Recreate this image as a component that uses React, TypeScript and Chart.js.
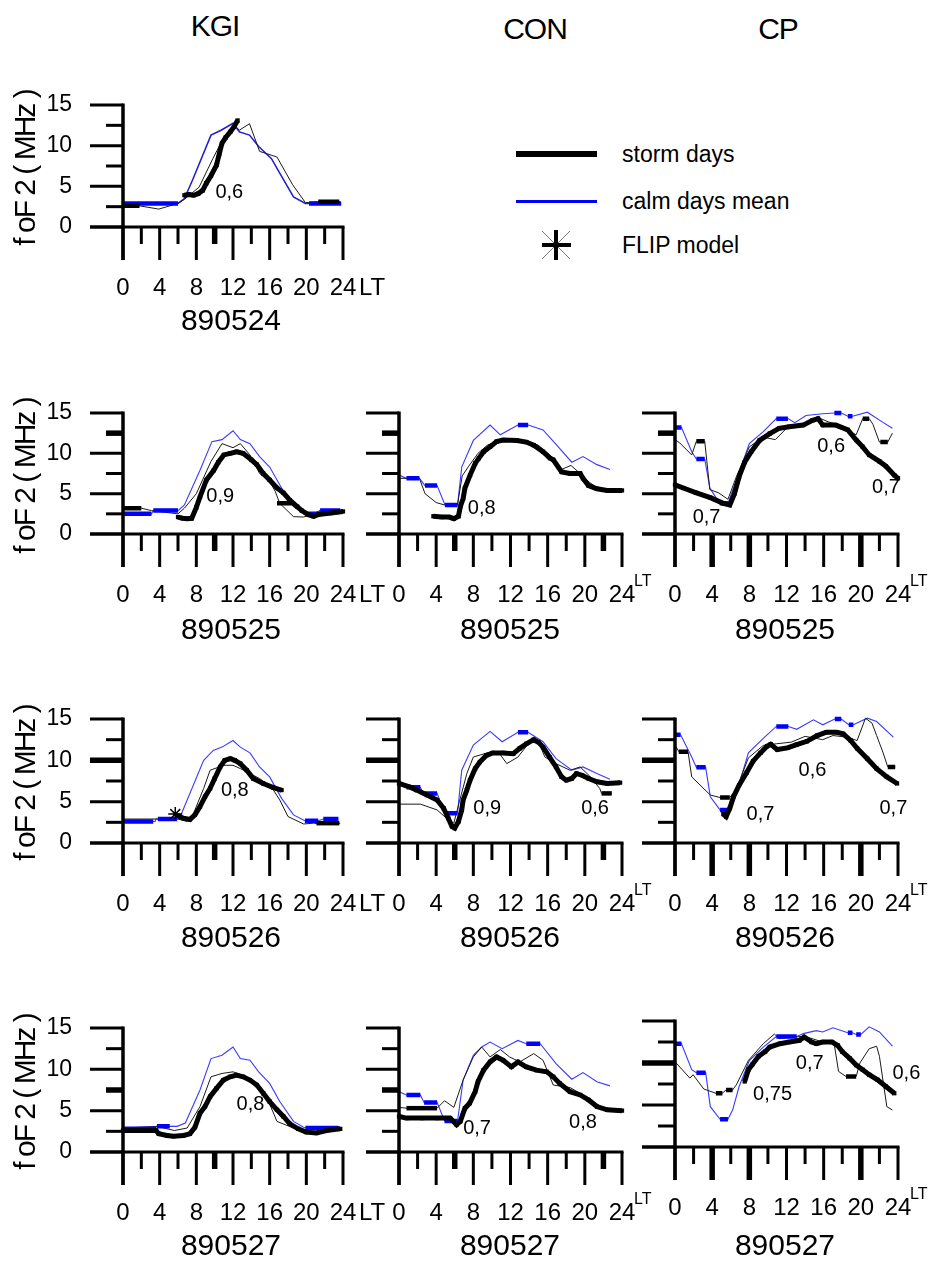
import React, { useEffect, useRef } from "react";
import { Chart, registerables } from "chart.js";

Chart.register(...registerables);

const FONT = '"Liberation Sans", Arial, Helvetica, sans-serif';

// ---------- axes / labels ----------
const X_TICKS = [0, 2, 4, 6, 8, 10, 12, 14, 16, 18, 20, 22, 24];
const X_MAJOR = [0, 4, 8, 12, 16, 20, 24];
const X_LABELS = ["0", "4", "8", "12", "16", "20", "24"];
const Y_TICKS = [0, 2.5, 5, 7.5, 10, 12.5, 15];
const Y_MAJOR = [0, 5, 10, 15];
const Y_LABELS = ["0", "5", "10", "15"];
const STATIONS = ["KGI", "CON", "CP"];
const DAYS = ["890524", "890525", "890526", "890527"];
const Y_TITLE = "f oF 2 ( MHz )";
const LEGEND = ["storm days", "calm days mean", "FLIP model"];

type P = [number, number];
type M = [number, number, number];
type N = [number, number, string];

// ---------- KGI 890524 ----------
const KGI_0524_STORM: P[] = [[6.7,3.9],[7.2,4.0],[7.7,3.9],[8.2,4.1],[8.7,4.5],[9.1,5.4],[9.6,6.3],[10.2,7.6],[10.5,9.0],[10.8,10.3],[11.2,11.0],[11.7,11.7],[12.1,12.3],[12.5,13.1]];
const KGI_0524_CALM: P[] = [[0,2.9],[6,2.9],[6.7,3.5],[7.6,5.8],[9.6,11.3],[10.7,11.9],[12.0,12.75],[12.7,11.7],[13.8,11.3],[14.8,9.9],[16.2,8.4],[16.8,7.2],[18.6,3.7],[19.9,2.9],[23.8,2.9]];
const KGI_0524_CALM_MARKS: M[] = [[0,6,2.9],[20.3,23.8,2.9]];
const KGI_0524_MODEL: P[] = [[0,2.6],[1.8,2.6],[3.9,2.2],[6.0,2.9],[6.7,3.4],[8.3,4.9],[9.8,8.4],[10.8,10.6],[12.1,12.6],[12.7,11.9],[13.8,12.7],[14.9,9.3],[16.8,8.6],[18.5,5.2],[19.9,3.0],[21.3,3.1],[23.6,3.1]];
const KGI_0524_MODEL_MARKS: M[] = [[0,1.8,2.6],[21.3,23.6,3.1]];
const KGI_0524_NOTES: N[] = [[11.6,4.2,"0,6"]];

// ---------- KGI 890525 ----------
const KGI_0525_STORM: P[] = [[6.0,2.1],[6.5,1.95],[7.0,1.9],[7.5,1.95],[8.0,3.3],[8.4,4.6],[9.1,6.7],[9.9,7.9],[10.4,8.9],[11.0,9.8],[11.7,10.0],[12.4,10.2],[13.1,10.0],[14.0,9.2],[14.6,8.6],[15.3,7.5],[16.0,6.7],[16.8,5.7],[17.5,5.1],[18.2,4.2],[19.0,3.4],[19.5,2.9],[20.2,2.4],[20.8,2.2],[21.3,2.4],[22.0,2.5],[22.7,2.6],[23.3,2.7],[24.0,2.8]];
const KGI_0525_CALM: P[] = [[0,2.5],[3.1,2.5],[3.3,2.9],[6.0,2.9],[6.7,3.6],[8.4,7.9],[9.7,11.45],[10.8,11.7],[12.0,12.8],[12.8,11.7],[13.85,11.2],[14.9,9.6],[16.0,8.3],[17.3,5.7],[18.6,3.4],[19.7,2.6],[20.0,2.5],[21.3,2.5],[21.5,2.9],[23.7,2.9]];
const KGI_0525_CALM_MARKS: M[] = [[0,3.1,2.5],[3.3,6.0,2.9],[20.0,21.3,2.5],[21.5,23.7,2.9]];
const KGI_0525_MODEL: P[] = [[0,3.2],[2.0,3.2],[3.1,2.9],[6.0,2.5],[6.7,3.2],[8.0,5.0],[9.6,9.0],[10.8,11.2],[12.0,10.7],[12.8,11.2],[13.85,9.8],[14.9,7.5],[16.0,6.5],[16.6,5.3],[17.1,3.8],[18.6,2.15],[19.7,2.1],[20.3,2.3],[21.5,2.9],[23.7,2.9]];
const KGI_0525_MODEL_MARKS: M[] = [[0,2.0,3.2],[16.8,18.6,3.8]];
const KGI_0525_NOTES: N[] = [[10.6,4.6,"0,9"]];

// ---------- CON 890525 ----------
const CON_0525_STORM: P[] = [[3.7,2.2],[4.6,2.1],[5.4,2.1],[5.9,1.9],[6.4,2.2],[6.6,3.4],[6.9,4.4],[7.1,5.7],[7.65,7.3],[8.2,8.75],[8.6,9.4],[9.1,10.2],[9.8,10.8],[10.5,11.45],[11.2,11.65],[12.7,11.6],[13.7,11.4],[14.5,11.0],[15.5,10.2],[16.25,9.4],[16.6,9.2],[17.5,7.7],[18.4,7.5],[19.5,7.5],[19.8,6.9],[20.4,6.0],[21.3,5.6],[22.4,5.4],[24,5.4]];
const CON_0525_CALM: P[] = [[0,7.3],[0.8,6.9],[2.2,6.9],[2.8,6.0],[4.1,6.0],[4.95,3.6],[6.3,3.6],[6.75,8.3],[8.0,11.6],[9.8,13.5],[10.9,12.3],[12.8,13.5],[13.9,13.5],[15.5,12.9],[16.9,11.1],[18.6,8.9],[19.8,9.6],[21.3,8.6],[22.7,8.0]];
const CON_0525_CALM_MARKS: M[] = [[0.8,2.2,6.9],[2.8,4.1,6.0],[4.95,6.3,3.6],[12.8,13.9,13.5]];
const CON_0525_MODEL: P[] = [[0,6.9],[2.2,6.9],[2.8,5.0],[4.0,3.9],[4.9,3.6],[6.3,3.6],[6.8,7.2],[7.5,8.4],[8.5,10.0],[9.5,11.0],[10.5,11.5],[12,11.6],[13.5,11.6],[15,11.0],[16.5,9.5],[17.5,8.0],[18.5,8.5],[19.3,7.7],[20.5,6.4],[21.5,5.6],[22.5,5.3],[23.5,5.3]];
const CON_0525_MODEL_MARKS: M[] = [];
const CON_0525_NOTES: N[] = [[8.9,3.2,"0,8"]];

// ---------- CP 890525 ----------
const CP_0525_STORM: P[] = [[0,6.1],[0.9,5.7],[2.3,5.1],[3.8,4.5],[5.2,3.8],[5.9,3.6],[6.4,5.0],[6.9,7.1],[7.5,8.9],[8.2,10.2],[9.1,11.6],[10.2,12.45],[11.2,13.1],[12.3,13.3],[13.8,13.5],[14.8,14.1],[15.4,14.3],[15.9,13.5],[17.3,13.5],[18.6,12.9],[19.5,11.65],[20.2,10.8],[20.9,9.8],[22.0,9.0],[22.7,8.4],[23.6,7.3],[24,6.9]];
const CP_0525_CALM: P[] = [[0,13.2],[0.7,13.2],[1.8,10.2],[2.3,9.3],[3.2,9.3],[3.75,5.7],[4.8,3.8],[5.7,3.8],[6.6,6.7],[8.0,11.2],[9.5,12.7],[10.9,14.3],[12.15,14.3],[12.9,13.8],[14.1,14.7],[15.9,14.9],[17.15,15.0],[17.9,15.0],[18.6,14.6],[19.1,14.6],[20.7,15.1],[22.3,13.9],[23.4,13.1]];
const CP_0525_CALM_MARKS: M[] = [[0,0.7,13.2],[2.3,3.2,9.3],[4.8,5.7,3.8],[10.9,12.15,14.3],[17.15,17.9,15.0],[18.6,19.1,14.6]];
const CP_0525_MODEL: P[] = [[0,11.7],[0.5,11.3],[1.8,9.8],[2.3,11.5],[3.2,11.5],[3.75,5.5],[4.7,5.1],[5.7,4.3],[6.6,7.1],[8.0,10.8],[9.5,12.0],[10.8,11.7],[12,13.1],[13.75,13.7],[15.5,14.4],[16.5,13.9],[18,13.4],[18.8,12.7],[19.5,12.3],[20.2,14.3],[20.9,14.3],[21.3,13.6],[22.0,11.4],[22.9,11.4],[23.4,12.5]];
const CP_0525_MODEL_MARKS: M[] = [[2.3,3.2,11.5],[20.2,20.9,14.3],[22.1,22.9,11.4]];
const CP_0525_NOTES: N[] = [[16.8,10.8,"0,6"],[22.7,5.8,"0,7"],[3.4,2.0,"0,7"]];

// ---------- KGI 890526 ----------
const KGI_0526_STORM: P[] = [[6.0,3.3],[6.6,3.0],[7.3,2.85],[7.85,3.4],[8.4,4.4],[8.95,5.6],[9.5,6.6],[10.0,7.8],[10.6,9.2],[11.1,10.0],[11.7,10.2],[12.2,10.0],[12.8,9.6],[13.5,8.8],[14.2,7.8],[15.3,7.2],[16.4,6.7],[17.3,6.4]];
const KGI_0526_CALM: P[] = [[0,2.6],[3.5,2.6],[3.6,2.9],[6.0,2.9],[6.4,3.6],[8.8,10.0],[9.85,11.2],[10.8,11.6],[12.0,12.4],[12.8,11.6],[13.85,10.9],[14.9,9.2],[16.0,8.0],[17.3,5.4],[18.6,3.4],[19.85,2.7],[21.3,2.7],[21.85,2.9],[23.5,2.9]];
const KGI_0526_CALM_MARKS: M[] = [[0,3.3,2.6],[3.8,5.9,2.9],[19.85,21.3,2.7],[21.85,23.5,2.9]];
const KGI_0526_MODEL: P[] = [[0,2.9],[6,2.9],[7.0,2.6],[7.7,3.6],[8.8,6.6],[9.5,8.8],[11,9.4],[12,9.4],[12.8,9.0],[13.85,8.4],[14.9,7.8],[16.3,6.6],[17.1,5.2],[18,3.2],[19.7,2.3],[20.8,2.4],[21.5,2.3],[23.7,2.4]];
const KGI_0526_MODEL_MARKS: M[] = [[21.1,23.6,2.4]];
const KGI_0526_FLIP: P[] = [[5.7,3.5]];
const KGI_0526_NOTES: N[] = [[12.2,6.4,"0,8"]];

// ---------- CON 890526 ----------
const CON_0526_STORM: P[] = [[0,7.2],[1.1,6.8],[1.9,6.4],[3.0,5.8],[4.1,5.2],[4.8,4.2],[5.3,3.0],[5.7,2.0],[6.0,1.8],[6.4,2.6],[6.75,4.0],[6.9,5.2],[7.3,6.4],[7.65,7.6],[8.2,9.0],[8.7,9.8],[9.4,10.6],[10.1,10.9],[11.2,10.9],[12.3,10.8],[13.0,11.45],[13.7,12.0],[14.5,12.5],[15.0,12.2],[15.5,11.6],[16.2,10.4],[16.9,9.2],[17.5,8.0],[18.0,7.6],[18.6,7.8],[19.1,8.4],[19.7,8.2],[20.4,7.8],[21.3,7.4],[22.4,7.2],[23.8,7.3]];
const CON_0526_CALM: P[] = [[0,7.3],[0.8,6.75],[2.3,6.75],[2.6,6.0],[4.1,6.0],[4.9,3.6],[6.3,3.6],[6.75,8.8],[8.0,11.85],[9.8,13.5],[11.1,12.25],[12.8,13.4],[13.9,13.4],[15.5,12.25],[16.9,10.2],[18.6,8.8],[19.8,9.2],[21.3,8.4],[22.7,7.7]];
const CON_0526_CALM_MARKS: M[] = [[0.8,2.3,6.75],[2.6,4.1,6.0],[4.9,6.3,3.6],[12.8,13.9,13.4]];
const CON_0526_MODEL: P[] = [[0,4.7],[2.3,4.7],[4.1,4.0],[5.1,3.0],[5.9,2.4],[6.5,5.0],[7.3,8.4],[8.0,10.4],[9.8,11.0],[10.7,11.0],[11.6,9.6],[12.8,10.4],[14.1,12.25],[15.1,12.0],[15.7,10.4],[16.9,9.6],[18.4,8.8],[19.5,9.2],[20.6,8.0],[21.6,6.6],[21.8,6.0],[22.9,6.0]];
const CON_0526_MODEL_MARKS: M[] = [[21.8,22.9,6.0]];
const CON_0526_NOTES: N[] = [[9.5,4.2,"0,9"],[21.1,4.2,"0,6"]];

// ---------- CP 890526 ----------
const CP_0526_STORM: P[] = [[5.2,3.5],[5.5,3.2],[5.9,4.2],[6.3,5.6],[6.9,7.0],[7.7,8.5],[8.4,9.9],[9.2,10.9],[9.9,11.7],[10.3,11.95],[11.0,11.3],[12.1,11.5],[13.1,11.9],[14.2,12.3],[15.3,13.0],[16.3,13.4],[17.4,13.4],[18.1,13.2],[18.9,12.4],[19.6,11.45],[20.7,10.2],[21.7,9.0],[22.8,8.0],[23.9,7.2]];
const CP_0526_CALM: P[] = [[0,13.1],[0.6,13.1],[1.8,10.4],[2.3,9.15],[3.3,9.15],[3.8,5.6],[4.85,4.0],[5.9,4.0],[6.6,6.0],[7.9,10.9],[9.5,12.65],[10.9,14.1],[12.2,14.1],[13.1,13.75],[14.9,14.9],[15.9,14.3],[17.2,15.0],[17.9,15.0],[18.7,14.3],[19.2,14.3],[20.7,15.1],[21.7,14.7],[23.5,12.8]];
const CP_0526_CALM_MARKS: M[] = [[0,0.6,13.1],[2.3,3.3,9.15],[4.85,5.9,4.0],[10.9,12.2,14.1],[17.2,17.9,15.0],[18.7,19.2,14.3]];
const CP_0526_MODEL: P[] = [[0,11.9],[0.4,11.05],[1.4,11.05],[1.8,8.0],[3.8,5.8],[4.85,5.5],[5.9,5.5],[6.6,6.5],[7.9,10.3],[9.5,11.8],[10.9,12.0],[12.5,12.2],[14,12.9],[15.9,12.5],[17,13.0],[18.5,12.8],[19.6,12.4],[20.5,15.1],[21.2,14.5],[21.7,13.0],[22.4,10.9],[22.9,9.2],[23.7,9.2]];
const CP_0526_MODEL_MARKS: M[] = [[0.4,1.4,11.05],[4.85,5.9,5.5],[22.9,23.7,9.2]];
const CP_0526_NOTES: N[] = [[9.2,3.4,"0,7"],[14.8,8.8,"0,6"],[23.5,4.2,"0,7"]];

// ---------- KGI 890527 ----------
const KGI_0527_STORM: P[] = [[0,2.6],[1.5,2.6],[3.6,2.6],[3.9,2.2],[4.8,2.0],[5.5,1.9],[6.6,2.0],[7.3,2.2],[7.85,3.0],[8.4,4.7],[8.95,5.5],[9.5,6.7],[10.2,7.7],[10.95,8.7],[11.7,9.1],[12.4,9.3],[13.1,9.1],[13.85,8.7],[14.6,8.1],[15.3,7.1],[16.0,6.1],[16.8,5.1],[17.5,4.3],[18.2,3.4],[19.1,2.8],[20.0,2.4],[21.1,2.3],[22.2,2.6],[23.7,2.8]];
const KGI_0527_CALM: P[] = [[0,2.8],[3.6,2.8],[3.7,3.1],[5.9,3.1],[6.8,3.5],[8.4,7.5],[9.6,11.3],[10.8,11.7],[12.0,12.7],[12.8,11.3],[13.85,11.1],[14.8,9.7],[16.0,8.3],[17.1,6.1],[18.6,3.7],[19.7,3.0],[20,2.9],[23.5,2.9]];
const KGI_0527_CALM_MARKS: M[] = [[0,3.6,2.8],[3.7,5.1,3.1],[19.9,23.5,2.9]];
const KGI_0527_MODEL: P[] = [[0,2.9],[3.7,3.1],[5.6,2.6],[7.0,2.9],[8.4,5.5],[9.6,9.1],[10.8,9.5],[12.0,9.7],[13.5,9.1],[14.5,8.1],[15.8,6.3],[16.8,3.7],[18.6,2.9],[19.7,2.3],[21,2.3],[23.5,2.7]];
const KGI_0527_MODEL_MARKS: M[] = [];
const KGI_0527_NOTES: N[] = [[13.9,5.7,"0,8"]];

// ---------- CON 890527 ----------
const CON_0527_STORM: P[] = [[0,4.3],[0.8,4.1],[2.5,4.1],[4.1,4.1],[5.5,4.1],[6.2,3.3],[6.6,3.7],[7.1,5.3],[7.6,5.9],[8.2,7.3],[8.5,8.5],[9.1,9.9],[9.8,10.9],[10.5,11.5],[11.2,11.1],[12.1,10.3],[12.8,10.9],[13.7,10.3],[14.8,9.9],[15.9,9.7],[16.6,9.1],[17.3,8.3],[18.4,7.3],[19.5,6.9],[20.4,6.3],[21.3,5.5],[22.4,5.1],[24,5.0]];
const CON_0527_CALM: P[] = [[0,7.3],[0.8,6.9],[2.3,6.9],[2.7,6.0],[4.1,6.0],[4.9,3.75],[6.3,3.75],[6.9,8.7],[8.0,11.7],[8.9,12.7],[9.8,13.3],[11.1,12.5],[12.8,13.5],[13.7,13.1],[15.2,13.1],[16.9,10.7],[18.6,8.8],[19.8,9.6],[21.3,8.5],[22.7,8.0]];
const CON_0527_CALM_MARKS: M[] = [[0.8,2.3,6.9],[2.7,4.1,6.0],[4.9,6.3,3.75],[13.7,15.2,13.1]];
const CON_0527_MODEL: P[] = [[0,5.4],[0.8,5.3],[4.1,5.3],[4.9,6.2],[5.9,5.4],[6.9,8.7],[8.0,11.5],[8.9,12.7],[9.8,11.5],[10.9,12.4],[11.9,11.5],[13.0,10.9],[14.5,11.9],[15.5,11.1],[16.6,8.1],[18.4,7.8],[19.5,7.1],[20.6,6.3],[21.3,5.5]];
const CON_0527_MODEL_MARKS: M[] = [[0.8,4.1,5.3]];
const CON_0527_NOTES: N[] = [[8.4,2.9,"0,7"],[19.8,3.6,"0,8"]];

// ---------- CP 890527 ----------
const CP_0527_STORM: P[] = [[7.5,7.8],[7.9,9.2],[8.3,9.8],[9.0,10.8],[9.7,11.35],[10.2,11.9],[11.3,12.3],[12.3,12.5],[13.4,12.7],[13.9,13.1],[14.7,12.5],[15.2,12.3],[15.9,12.5],[16.9,12.5],[17.5,12.1],[18.0,11.35],[18.8,10.55],[19.5,9.75],[20.2,9.2],[20.9,8.6],[21.8,8.0],[22.7,7.2],[23.6,6.4]];
const CP_0527_CALM: P[] = [[0,12.3],[0.7,12.3],[1.8,9.2],[2.3,8.85],[3.3,8.85],[3.8,4.8],[4.85,3.3],[5.7,3.3],[6.2,4.4],[6.9,7.2],[8.0,10.3],[9.5,11.9],[10.9,13.15],[13.1,13.15],[13.8,13.5],[15.2,13.85],[15.9,13.7],[17.0,14.2],[18.6,13.6],[19.1,13.6],[19.5,13.4],[20.0,13.4],[20.9,14.3],[22.0,13.7],[23.4,12.0]];
const CP_0527_CALM_MARKS: M[] = [[0,0.7,12.3],[2.3,3.3,8.85],[4.85,5.7,3.3],[10.9,13.1,13.15],[18.6,19.1,13.6],[19.5,20.0,13.4]];
const CP_0527_MODEL: P[] = [[0,10.15],[1.6,8.2],[1.95,8.6],[3.1,6.9],[4.4,6.4],[5.1,6.4],[5.5,6.8],[6.2,6.8],[6.6,7.4],[7.9,10.3],[9.5,12.3],[10.7,13.45],[11.2,12.9],[13.9,13.2],[15.9,12.5],[17.1,12.5],[17.6,9.0],[18.4,8.4],[19.5,8.4],[19.9,10.0],[20.9,11.7],[21.7,12.0],[22.0,10.8],[22.8,4.8],[23.4,4.4]];
const CP_0527_MODEL_MARKS: M[] = [[4.4,5.1,6.4],[5.5,6.2,6.8],[18.4,19.5,8.4]];
const CP_0527_NOTES: N[] = [[10.5,6.2,"0,75"],[14.5,10.0,"0,7"],[24.9,8.8,"0,6"]];

// ---------- layout (pixels) ----------
const COL_X = [[123, 343], [399, 622], [675, 898]];
const ROW_Y = [[105, 227], [413, 534], [719, 843], [1028, 1152]];
const PAD = { left: 100, right: 50, top: 25, bottom: 80 };
const HEADER_POS = [[215, 26], [535, 29], [778, 29]];
const DATE_Y = [320, 629, 937, 1245];
const DATE_X = [231, 510, 785];

type PanelDef = {
  row: number; col: number;
  storm: P[]; calm: P[]; calmMarks: M[]; model: P[]; modelMarks: M[]; notes: N[]; flip?: P[];
  thickX: number[]; thickY: number[]; geomY?: number[];
};

const PANELS: PanelDef[] = [
  { row: 0, col: 0, storm: KGI_0524_STORM, calm: KGI_0524_CALM, calmMarks: KGI_0524_CALM_MARKS, model: KGI_0524_MODEL, modelMarks: KGI_0524_MODEL_MARKS, notes: KGI_0524_NOTES, thickX: [10], thickY: [] },
  { row: 1, col: 0, storm: KGI_0525_STORM, calm: KGI_0525_CALM, calmMarks: KGI_0525_CALM_MARKS, model: KGI_0525_MODEL, modelMarks: KGI_0525_MODEL_MARKS, notes: KGI_0525_NOTES, thickX: [10], thickY: [12.5] },
  { row: 1, col: 1, storm: CON_0525_STORM, calm: CON_0525_CALM, calmMarks: CON_0525_CALM_MARKS, model: CON_0525_MODEL, modelMarks: CON_0525_MODEL_MARKS, notes: CON_0525_NOTES, thickX: [6, 22], thickY: [12.5] },
  { row: 1, col: 2, storm: CP_0525_STORM, calm: CP_0525_CALM, calmMarks: CP_0525_CALM_MARKS, model: CP_0525_MODEL, modelMarks: CP_0525_MODEL_MARKS, notes: CP_0525_NOTES, thickX: [4, 8, 20], thickY: [12.5] },
  { row: 2, col: 0, storm: KGI_0526_STORM, calm: KGI_0526_CALM, calmMarks: KGI_0526_CALM_MARKS, model: KGI_0526_MODEL, modelMarks: KGI_0526_MODEL_MARKS, notes: KGI_0526_NOTES, flip: KGI_0526_FLIP, thickX: [10], thickY: [10] },
  { row: 2, col: 1, storm: CON_0526_STORM, calm: CON_0526_CALM, calmMarks: CON_0526_CALM_MARKS, model: CON_0526_MODEL, modelMarks: CON_0526_MODEL_MARKS, notes: CON_0526_NOTES, thickX: [6, 22], thickY: [10] },
  { row: 2, col: 2, storm: CP_0526_STORM, calm: CP_0526_CALM, calmMarks: CP_0526_CALM_MARKS, model: CP_0526_MODEL, modelMarks: CP_0526_MODEL_MARKS, notes: CP_0526_NOTES, thickX: [4, 8, 20], thickY: [10] },
  { row: 3, col: 0, storm: KGI_0527_STORM, calm: KGI_0527_CALM, calmMarks: KGI_0527_CALM_MARKS, model: KGI_0527_MODEL, modelMarks: KGI_0527_MODEL_MARKS, notes: KGI_0527_NOTES, thickX: [10], thickY: [7.5] },
  { row: 3, col: 1, storm: CON_0527_STORM, calm: CON_0527_CALM, calmMarks: CON_0527_CALM_MARKS, model: CON_0527_MODEL, modelMarks: CON_0527_MODEL_MARKS, notes: CON_0527_NOTES, thickX: [6, 22], thickY: [7.5] },
  { row: 3, col: 2, storm: CP_0527_STORM, calm: CP_0527_CALM, calmMarks: CP_0527_CALM_MARKS, model: CP_0527_MODEL, modelMarks: CP_0527_MODEL_MARKS, notes: CP_0527_NOTES, thickX: [4, 8, 20], thickY: [10], geomY: [1021, 1147] },
];

const toXY = (pairs: P[]) => pairs.map(([x, y]) => ({ x, y }));
const marksToXY = (marks: M[]) => {
  const out: { x: number; y: number | null }[] = [];
  marks.forEach(([a, b, v]) => { out.push({ x: a, y: v }, { x: b, y: v }, { x: b, y: null }); });
  return out;
};

const decorPlugin = {
  id: "decor",
  afterDraw(chart: any, _args: any, opts: any) {
    const ctx = chart.ctx as CanvasRenderingContext2D;
    const xs = chart.scales.x;
    const ys = chart.scales.y;
    const X0 = xs.getPixelForValue(0);
    const X24 = xs.getPixelForValue(24);
    const Y0 = ys.getPixelForValue(0);
    const Y15 = ys.getPixelForValue(15);
    ctx.save();
    ctx.strokeStyle = "#000";
    ctx.fillStyle = "#000";
    ctx.lineCap = "butt";
    const seg = (x1: number, y1: number, x2: number, y2: number, w: number) => {
      ctx.lineWidth = w;
      ctx.beginPath();
      ctx.moveTo(x1, y1);
      ctx.lineTo(x2, y2);
      ctx.stroke();
    };
    Y_TICKS.forEach((t) => {
      const py = ys.getPixelForValue(t);
      const major = Y_MAJOR.includes(t);
      const len = major ? 33 : 17;
      const w = opts.thickY.includes(t) ? 5.5 : 3;
      seg(X0 - len, py, X0, py, w);
    });
    seg(X0 - 33, Y0, X24 + 1.5, Y0, 3);
    seg(X0, Y15 - 1.5, X0, Y0 + 33, 3.5);
    X_TICKS.forEach((t) => {
      const px = xs.getPixelForValue(t);
      const major = X_MAJOR.includes(t);
      const len = major ? 33 : 17;
      const w = opts.thickX.includes(t) ? 5.5 : 3;
      seg(px, Y0, px, Y0 + len, w);
    });
    ctx.font = `24px ${FONT}`;
    ctx.textAlign = "center";
    ctx.textBaseline = "middle";
    X_MAJOR.forEach((t, i) => ctx.fillText(X_LABELS[i], xs.getPixelForValue(t), Y0 + 61));
    if (opts.lt === "inline") {
      ctx.textAlign = "left";
      ctx.fillText("LT", X24 + 16, Y0 + 61);
    } else {
      ctx.font = `16px ${FONT}`;
      ctx.textAlign = "left";
      ctx.fillText("LT", X24 + 12, Y0 + 48);
    }
    if (opts.yLabels) {
      ctx.font = `23px ${FONT}`;
      ctx.textAlign = "right";
      Y_MAJOR.forEach((t, i) => ctx.fillText(Y_LABELS[i], X0 - 51, ys.getPixelForValue(t)));
    }
    ctx.font = `20px ${FONT}`;
    ctx.textAlign = "center";
    (opts.notes as N[]).forEach(([h, v, s]) => ctx.fillText(s, xs.getPixelForValue(h), ys.getPixelForValue(v)));
    ctx.restore();
  },
};

function Panel({ def }: { def: PanelDef }) {
  const ref = useRef<HTMLCanvasElement | null>(null);
  const [x0, x24] = COL_X[def.col];
  const [y15, y0] = def.geomY || ROW_Y[def.row];
  const width = x24 - x0 + PAD.left + PAD.right;
  const height = y0 - y15 + PAD.top + PAD.bottom;
  useEffect(() => {
    if (!ref.current) return;
    const datasets: any[] = [
      { label: "storm days", data: toXY(def.storm), borderColor: "#000", backgroundColor: "#000", borderWidth: 5, pointStyle: "rect", pointRadius: 3, pointBorderWidth: 0, order: 0, clip: false },
      { label: "storm marks", data: marksToXY(def.modelMarks), borderColor: "#000", borderWidth: 4.5, pointRadius: 0, order: 1, clip: false },
      { label: "calm marks", data: marksToXY(def.calmMarks), borderColor: "#0000ff", borderWidth: 4.5, pointRadius: 0, order: 2, clip: false },
      { label: "hourly", data: toXY(def.model), borderColor: "#1a1a1a", borderWidth: 1, pointRadius: 0, order: 3, clip: false },
      { label: "calm days mean", data: toXY(def.calm), borderColor: def.row === 0 ? "#1c1cd0" : "#3a3aff", borderWidth: def.row === 0 ? 1.5 : 1.1, pointRadius: 0, order: 4, clip: false },
    ];
    if (def.flip) {
      datasets.push({ label: "FLIP model", data: toXY(def.flip), showLine: false, pointStyle: "star", pointRadius: 7, borderColor: "#000", borderWidth: 1.5, order: 0, clip: false });
    }
    const chart = new Chart(ref.current, {
      type: "line",
      data: { datasets },
      options: {
        responsive: false,
        maintainAspectRatio: false,
        animation: false,
        events: [],
        layout: { padding: PAD },
        scales: {
          x: { type: "linear", min: 0, max: 24, display: false },
          y: { type: "linear", min: 0, max: 15, display: false },
        },
        plugins: {
          legend: { display: false },
          tooltip: { enabled: false },
          decor: { thickX: def.thickX, thickY: def.thickY, yLabels: def.col === 0, lt: def.col === 0 ? "inline" : "sup", notes: def.notes },
        } as any,
      },
      plugins: [decorPlugin],
    });
    return () => chart.destroy();
  }, []);
  return (
    <canvas
      ref={ref}
      width={width}
      height={height}
      style={{ position: "absolute", left: x0 - PAD.left, top: y15 - PAD.top, width, height }}
    />
  );
}

const textStyle = (cx: number, cy: number, size: number): React.CSSProperties => ({
  position: "absolute",
  left: cx - 150,
  top: cy - size * 0.6,
  width: 300,
  height: size * 1.2,
  lineHeight: `${size * 1.2}px`,
  fontSize: size,
  textAlign: "center",
  fontFamily: FONT,
  color: "#000",
  whiteSpace: "nowrap",
});

export default function App() {
  const rowsWithDates: [number, number][] = [[0, 0], [1, 0], [1, 1], [1, 2], [2, 0], [2, 1], [2, 2], [3, 0], [3, 1], [3, 2]];
  return (
    <div style={{ position: "absolute", left: 0, top: 0, width: 931, height: 1261, overflow: "hidden", background: "#fff" }}>
      {STATIONS.map((s, i) => (
        <div key={s} style={{ ...textStyle(HEADER_POS[i][0], HEADER_POS[i][1], 30), letterSpacing: -1 }}>{s}</div>
      ))}
      {PANELS.map((p, i) => <Panel key={i} def={p} />)}
      {rowsWithDates.map(([r, c], i) => (
        <div key={"d" + i} style={textStyle(DATE_X[c], DATE_Y[r], 30)}>{DAYS[r]}</div>
      ))}
      {ROW_Y.map(([a, b], r) => (
        <div
          key={"yt" + r}
          style={{
            position: "absolute",
            left: 25 - 110,
            top: (a + b) / 2 + 2 - 17,
            width: 220,
            height: 34,
            lineHeight: "34px",
            fontSize: 30,
            fontFamily: FONT,
            textAlign: "center",
            letterSpacing: -2,
            whiteSpace: "nowrap",
            transform: "rotate(-90deg)",
          }}
        >
          {Y_TITLE}
        </div>
      ))}
      {/* legend */}
      <div style={{ position: "absolute", left: 516, top: 151, width: 81, height: 6, background: "#000" }} />
      <div style={{ position: "absolute", left: 516, top: 199.5, width: 81, height: 3, background: "#0000ff" }} />
      <svg style={{ position: "absolute", left: 540, top: 229 }} width={32} height={32}>
        <line x1={2} y1={2} x2={30} y2={30} stroke="#777" strokeWidth={1} />
        <line x1={30} y1={2} x2={2} y2={30} stroke="#777" strokeWidth={1} />
        <line x1={16} y1={1} x2={16} y2={31} stroke="#000" strokeWidth={4} />
        <line x1={2} y1={16} x2={31} y2={16} stroke="#000" strokeWidth={4} />
      </svg>
      {LEGEND.map((t, i) => (
        <div
          key={t}
          style={{ position: "absolute", left: 622, top: [154, 201, 245][i] - 14, height: 28, lineHeight: "28px", fontSize: 23, fontFamily: FONT, whiteSpace: "nowrap" }}
        >
          {t}
        </div>
      ))}
    </div>
  );
}
